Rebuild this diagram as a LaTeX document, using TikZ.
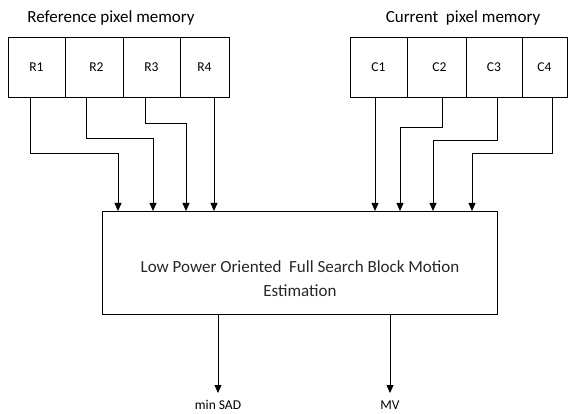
\documentclass[tikz,border=0pt]{standalone}
\usepackage{fontspec}
\setmainfont{Carlito}
\usetikzlibrary{arrows.meta}

\tikzset{
  cell/.style={draw, minimum height=60pt, inner sep=0pt, font=\fontsize{13.5}{15}\selectfont},
  link/.style={-{Triangle[width=7pt,length=8pt]}},
  title/.style={font=\fontsize{17}{19}\selectfont},
  outlabel/.style={anchor=base, inner sep=0pt, font=\fontsize{13.5}{15}\selectfont}
}

\begin{document}
\begin{tikzpicture}[x=1pt,y=-1pt,line width=0.8pt]
\useasboundingbox (0,0) rectangle (568,414);

% memory titles
\node[title] (reftitle) at (111,18) {Reference pixel memory};
\node[title] (curtitle) at (463,18) {Current\ \ pixel memory};

% reference memory cells
\node[cell, minimum width=57pt] (r1) at (36.5,67) {R1};
\node[cell, minimum width=58pt] (r2) at (94,67) {\hspace{5pt}R2};
\node[cell, minimum width=57pt] (r3) at (151.5,67) {R3};
\node[cell, minimum width=49pt] (r4) at (204.5,67) {R4};

% current memory cells
\node[cell, minimum width=57pt] (c1) at (378.5,67) {C1};
\node[cell, minimum width=59pt] (c2) at (436.5,67) {\hspace{6pt}C2};
\node[cell, minimum width=56pt] (c3) at (494,67) {C3};
\node[cell, minimum width=45pt] (c4) at (544.5,67) {C4};

% estimator block
\node[draw, minimum width=395pt, minimum height=103pt] (fsbme) at (299.5,262.5) {};
\node[align=center, text=black!85, font=\fontsize{17}{24}\selectfont] (fsbtext) at (300,279)
  {Low Power Oriented\ \ Full Search Block Motion\\Estimation};

% inputs on top of the block
\coordinate (a1) at (118,211);
\coordinate (a2) at (153,211);
\coordinate (a3) at (186,211);
\coordinate (a4) at (214,211);
\coordinate (b1) at (375,211);
\coordinate (b2) at (400,211);
\coordinate (b3) at (433,211);
\coordinate (b4) at (472,211);

\draw[link] ([xshift=-6.5pt]r1.south) -- ++(0,56) -| (a1);
\draw[link] ([xshift=-8pt]r2.south) -- ++(0,41) -| (a2);
\draw[link] ([xshift=-6.5pt]r3.south) -- ++(0,26) -| (a3);
\draw[link] (r4.south -| a4) -- (a4);

\draw[link] (c1.south -| b1) -- (b1);
\draw[link] ([xshift=5.5pt]c2.south) -- ++(0,30) -| (b2);
\draw[link] ([xshift=3pt]c3.south) -- ++(0,43) -| (b3);
\draw[link] ([xshift=7.5pt]c4.south) -- ++(0,56) -| (b4);

% outputs
\node[outlabel] (sad) at (218,409) {min SAD};
\node[outlabel] (mv) at (390,409) {MV};
\coordinate (sadend) at (218,393);
\coordinate (mvend) at (390,393);
\draw[link] (fsbme.south -| sadend) -- (sadend);
\draw[link] (fsbme.south -| mvend) -- (mvend);
\end{tikzpicture}
\end{document}
